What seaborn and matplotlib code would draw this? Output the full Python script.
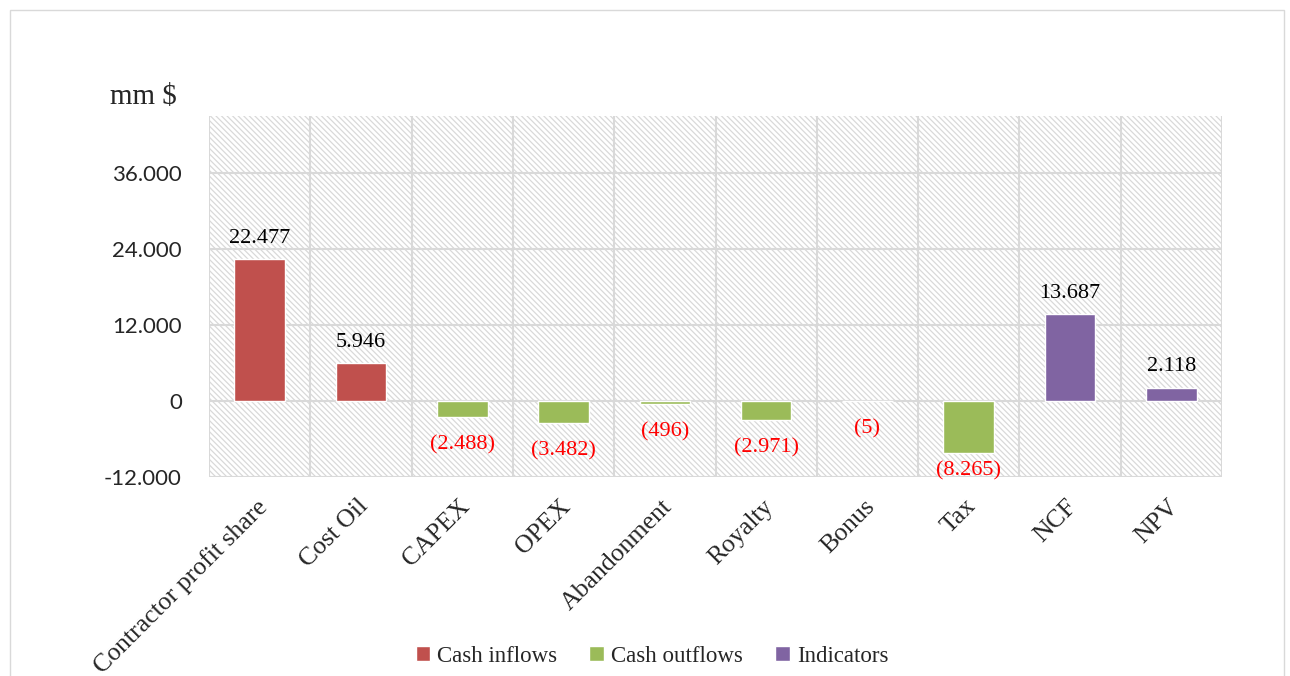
import numpy as np
import pandas as pd
import matplotlib
matplotlib.use("Agg")
import matplotlib.pyplot as plt
import matplotlib.transforms as mtransforms
from matplotlib.patches import Rectangle
from matplotlib.ticker import FuncFormatter
import seaborn as sns

# data (mm $)
categories = ["Contractor profit share", "Cost Oil", "CAPEX", "OPEX", "Abandonment",
              "Royalty", "Bonus", "Tax", "NCF", "NPV"]
values = [22477, 5946, -2488, -3482, -496, -2971, -5, -8265, 13687, 2118]
groups = ["Cash inflows", "Cash inflows", "Cash outflows", "Cash outflows", "Cash outflows",
          "Cash outflows", "Cash outflows", "Cash outflows", "Indicators", "Indicators"]
group_colors = {"Cash inflows": "#C0504D", "Cash outflows": "#9BBB59", "Indicators": "#8064A2"}

df = pd.DataFrame({"Item": categories, "Value": values, "Group": groups})

sns.set_style("white")
plt.rcParams["font.family"] = ["Liberation Serif", "DejaVu Serif"]
plt.rcParams["hatch.linewidth"] = 0.9
plt.rcParams["hatch.color"] = "#D9D9D9"

fig = plt.figure(figsize=(12.9, 6.76), dpi=100)
ax = fig.add_axes([209 / 1290, 1 - 477 / 676, (1222 - 209) / 1290, (477 - 116) / 676])

# hatched background of the plot area
ax.add_patch(Rectangle((0, 0), 1, 1, transform=ax.transAxes, facecolor="white",
                       edgecolor="#D9D9D9", hatch="\\\\\\\\\\\\", linewidth=0, zorder=0))

sns.barplot(data=df, x="Item", y="Value", hue="Group", palette=group_colors,
            dodge=False, width=0.5, saturation=1, ax=ax, zorder=3)

ax.set_xlim(-0.5, len(categories) - 0.5)
ax.set_ylim(-12000, 45000)
ax.set_yticks([-12000, 0, 12000, 24000, 36000])
ax.yaxis.set_major_formatter(FuncFormatter(lambda v, p: f"{int(v):,}".replace(",", ".")))

# grid lines
for yv in [-12000, 0, 12000, 24000, 36000]:
    ax.axhline(yv, color="#D9D9D9", lw=1.5, zorder=1)
for xv in np.arange(-0.5, len(categories), 1.0):
    ax.axvline(xv, color="#D9D9D9", lw=1.5, zorder=1)
for s in ax.spines.values():
    s.set_visible(False)

ax.tick_params(axis="both", length=0)
ax.tick_params(axis="y", pad=19.5)
for t in ax.get_yticklabels():
    t.set_fontfamily(["Lato", "DejaVu Sans"])
    t.set_fontsize(16)
ax.set_xticks(range(len(categories)))
ax.set_xticklabels(categories, rotation=45, ha="right", rotation_mode="anchor", fontsize=18.5)
ax.tick_params(axis="x", pad=6)
shift = mtransforms.ScaledTranslation(-4 / 100, -10 / 100, fig.dpi_scale_trans)
for t in ax.get_xticklabels():
    t.set_transform(t.get_transform() + shift)
ax.set_xlabel("")
ax.set_ylabel("")

# value labels
for i, v in enumerate(values):
    if v >= 0:
        ax.annotate(f"{v:,}".replace(",", "."), (i, v), xytext=(0, 8), textcoords="offset points",
                    ha="center", va="bottom", fontsize=16, color="black")
    else:
        ypos = max(v - 4400, -11000)
        ax.text(i, ypos, f"({abs(v):,})".replace(",", "."), ha="center", va="center",
                fontsize=16, color="red")

fig.text(110 / 1290, 1 - 97 / 676, "mm $", fontsize=21, va="center", ha="left")

# legend
handles, labels = ax.get_legend_handles_labels()
ax.legend_.remove()
fig.legend(handles, labels, loc="center", bbox_to_anchor=(652 / 1290, 1 - 656 / 676), ncol=3, frameon=False,
           fontsize=16.5, handlelength=0.65, handleheight=0.65, handletextpad=0.3, columnspacing=1.4)

# chart border
fig.patches.append(Rectangle((10 / 1290, -0.01), 1274 / 1290, 1 - 10 / 676 + 0.01, transform=fig.transFigure,
                             fill=False, edgecolor="#D9D9D9", linewidth=1))

fig.savefig("out.png", dpi=100)
